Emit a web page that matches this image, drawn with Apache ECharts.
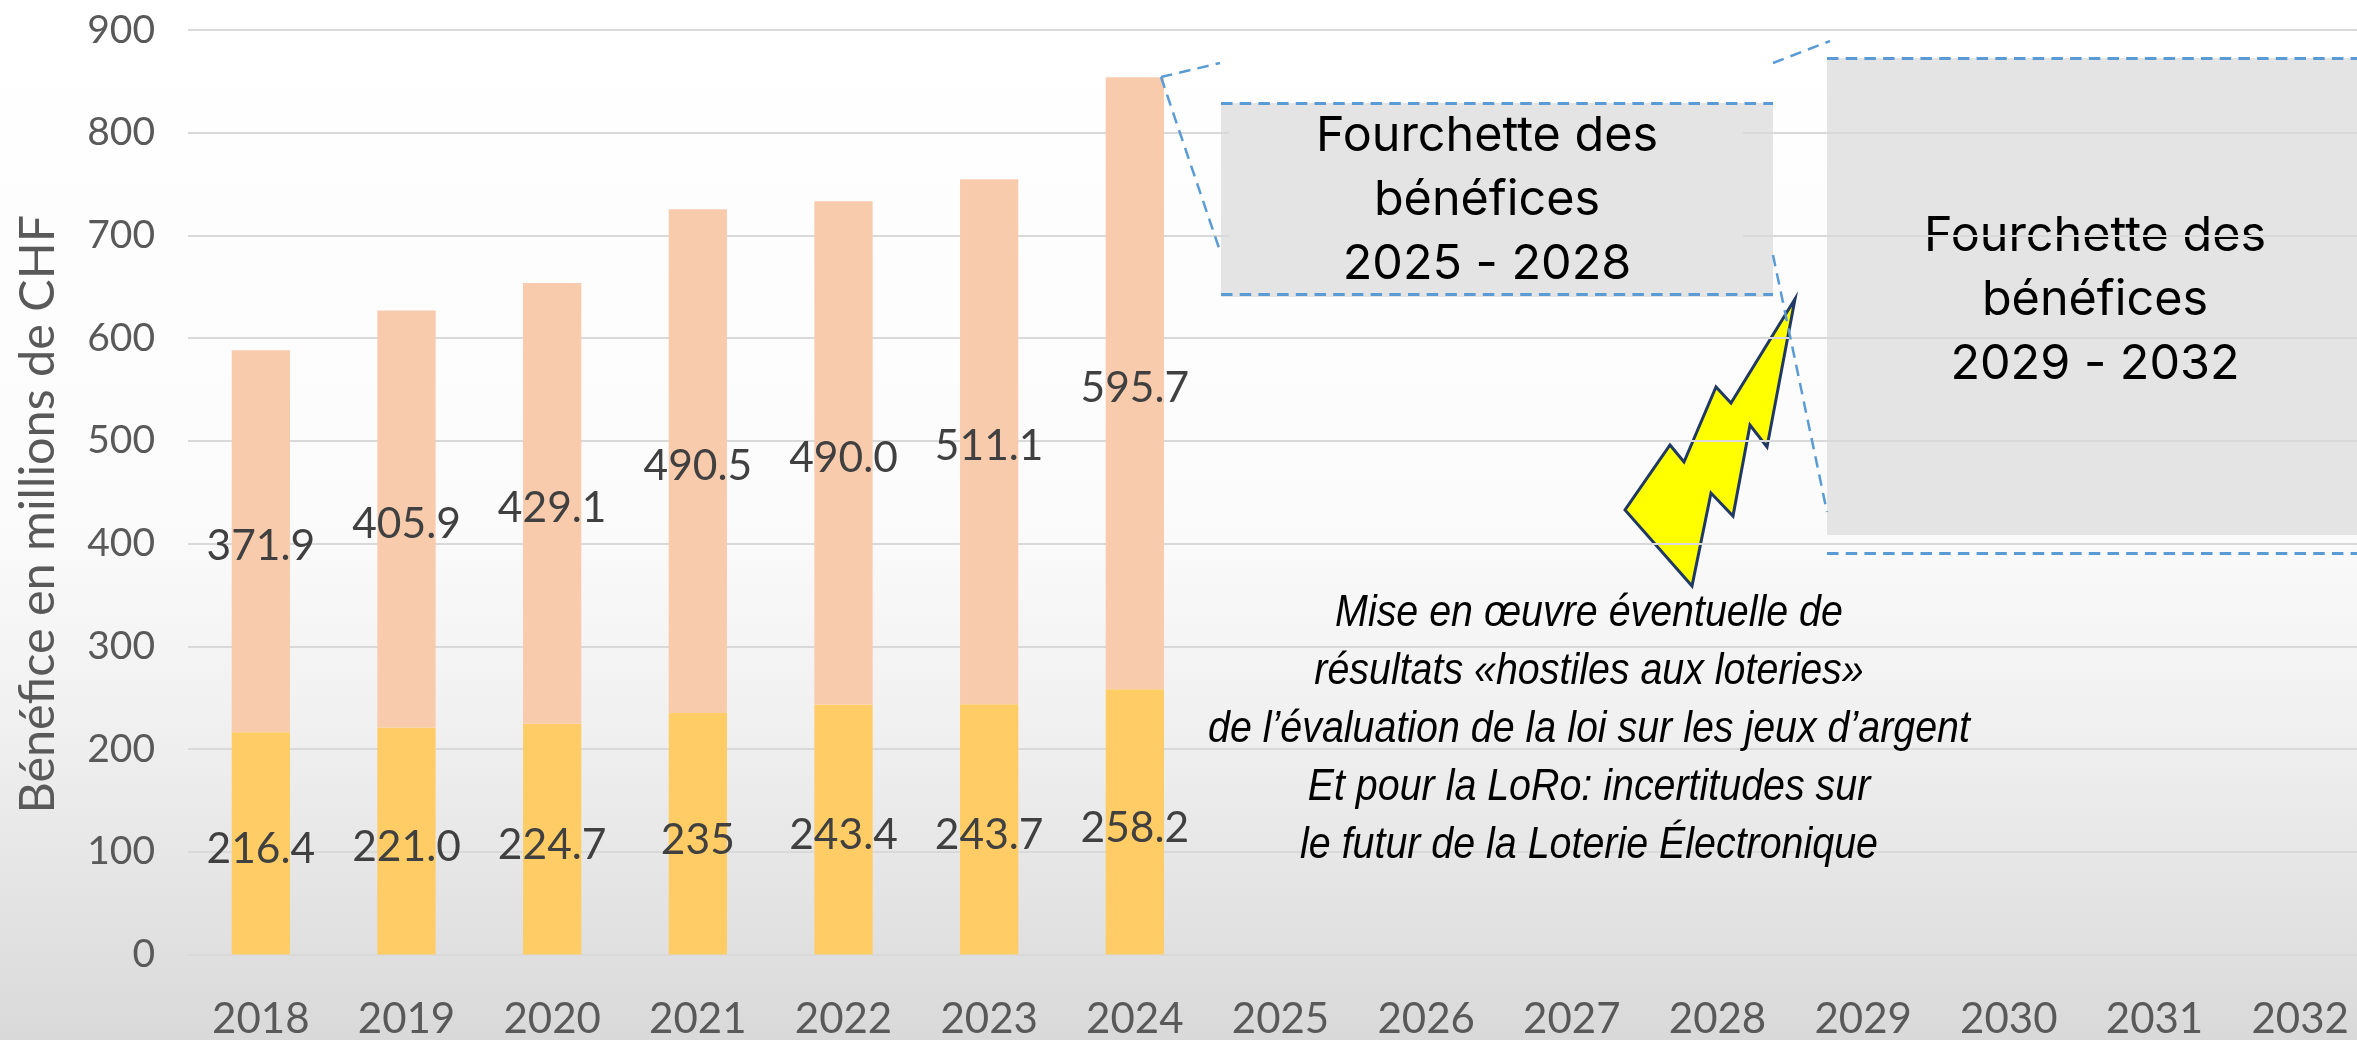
<!DOCTYPE html>
<html>
<head>
<meta charset="utf-8">
<style>
  html, body { margin: 0; padding: 0; background: #fff; }
  #chart { width: 2357px; height: 1040px; }
</style>
<script src="https://cdn.jsdelivr.net/npm/echarts@6/dist/echarts.min.js"></script>
</head>
<body>
<div id="chart"></div>
<script>
const categories = ['2018', '2019', '2020', '2021', '2022', '2023', '2024', '2025', '2026', '2027', '2028', '2029', '2030', '2031', '2032']
const lowerValues = [216.4, 221.0, 224.7, 235, 243.4, 243.7, 258.2, null, null, null, null, null, null, null, null]
const upperValues = [371.9, 405.9, 429.1, 490.5, 490.0, 511.1, 595.7, null, null, null, null, null, null, null, null]
const lowerLabels = ['216.4', '221.0', '224.7', '235', '243.4', '243.7', '258.2']
const upperLabels = ['371.9', '405.9', '429.1', '490.5', '490.0', '511.1', '595.7']
const yTicks = { min: 0, max: 900, interval: 100 }
const yTitle = 'Bénéfice en millions de CHF'
const rangeText1 = 'Fourchette des\nbénéfices\n2025 - 2028'
const rangeText2 = 'Fourchette des\nbénéfices\n2029 - 2032'
const noteLines = [
  'Mise en œuvre éventuelle de',
  'résultats «hostiles aux loteries»',
  'de l’évaluation de la loi sur les jeux d’argent',
  'Et pour la LoRo: incertitudes sur',
  'le futur de la Loterie Électronique',
]

const BLUE = '#5b9bd5'
const BOX = '#e4e4e4'

// z order: shapes under the gridlines, then the axis, then bars and box 1 mask
const dashed = (x1, y1, x2, y2, width, z) => ({
  type: 'line',
  z,
  shape: { x1, y1, x2, y2 },
  style: { stroke: BLUE, lineWidth: width, lineDash: [11.5, 7.2] },
})
const boxRect = (x, y, width, height, z) => ({
  type: 'rect',
  z,
  shape: { x, y, width, height },
  style: { fill: BOX },
})
const rangeLabel = (text, x, y, z) => ({
  type: 'text',
  z,
  x,
  y,
  style: {
    text,
    fill: '#000',
    font: '48.5px Inter',
    lineHeight: 64,
    align: 'center',
    verticalAlign: 'middle',
  },
})

// no narrow face installed, so the sans italic is squeezed to the reference width
const noteElements = noteLines.map((line, i) => ({
  type: 'text',
  z: 8,
  x: 1589,
  y: 614 + i * 58,
  scaleX: 0.895,
  style: {
    text: line,
    fill: '#000',
    font: 'italic 44px "Liberation Sans"',
    align: 'center',
    verticalAlign: 'middle',
  },
}))

const options = {
  animation: false,
  backgroundColor: new echarts.graphic.LinearGradient(0, 0, 0, 1, [
    { offset: 0, color: '#ffffff' },
    { offset: 0.5, color: '#fbfbfb' },
    { offset: 0.7, color: '#f0f0f0' },
    { offset: 1, color: '#d9d9d9' },
  ]),
  grid: { left: 188, width: 2185, top: 30, height: 924.5, outerBoundsMode: 'none' },
  xAxis: {
    type: 'category',
    data: categories,
    axisLine: { show: false },
    axisTick: { show: false },
    axisLabel: {
      interval: 0,
      margin: 44,
      color: '#595959',
      fontFamily: 'Lato',
      fontSize: 42,
    },
  },
  yAxis: {
    type: 'value',
    min: yTicks.min,
    max: yTicks.max,
    interval: yTicks.interval,
    z: 3,
    name: yTitle,
    nameLocation: 'middle',
    nameGap: 125,
    nameRotate: 90,
    nameTextStyle: {
      color: '#595959',
      fontFamily: 'Lato',
      fontSize: 48.5,
      padding: [0, 44, 0, 0],
    },
    axisLine: { show: false },
    axisTick: { show: false },
    axisLabel: {
      margin: 33,
      color: '#595959',
      fontFamily: 'Lato',
      fontSize: 39,
    },
    splitLine: { lineStyle: { color: '#d9d9d9', width: 2 } },
  },
  series: [{
    type: 'bar',
    stack: 'profit',
    z: 5,
    data: lowerValues,
    barWidth: '40%',
    itemStyle: { color: '#ffcc66' },
    label: {
      show: true,
      position: 'inside',
      offset: [0, 6],
      color: '#404040',
      fontFamily: 'Lato',
      fontSize: 42.5,
      formatter: (params) => lowerLabels[params.dataIndex] || '',
    },
  }, {
    type: 'bar',
    stack: 'profit',
    z: 5,
    data: upperValues,
    barWidth: '40%',
    itemStyle: { color: '#f8cbad' },
    label: {
      show: true,
      position: 'inside',
      offset: [0, 5],
      color: '#404040',
      fontFamily: 'Lato',
      fontSize: 42.5,
      formatter: (params) => upperLabels[params.dataIndex] || '',
    },
  }],
  graphic: {
    elements: [
      boxRect(1221, 103, 552, 194, 1),
      boxRect(1827, 58, 530, 477, 1),
      rangeLabel(rangeText2, 2095, 300, 2),
      {
        type: 'polygon',
        z: 2,
        shape: {
          points: [[1795, 299], [1731, 403], [1716, 387], [1684, 462], [1670, 445], [1625, 510], [1692, 586], [1711, 493], [1733, 516], [1750, 425], [1767, 447]],
        },
        style: { fill: '#ffff00', stroke: '#203864', lineWidth: 3 },
      },
      boxRect(1229, 106, 514, 188, 6),
      rangeLabel(rangeText1, 1487, 200, 7),
      dashed(1221, 103.5, 1773, 103.5, 3, 7),
      dashed(1221, 294.5, 1773, 294.5, 3, 7),
      dashed(1827, 58.5, 2357, 58.5, 3, 7),
      dashed(1827, 553.5, 2357, 553.5, 3, 7),
      dashed(1161, 77, 1220, 63, 2.5, 7),
      dashed(1161, 77, 1219, 248, 2.5, 7),
      dashed(1773, 63, 1830, 41, 2.5, 7),
      dashed(1773, 255, 1827, 512, 2.5, 7),
      ...noteElements,
    ],
  },
}

const myChart = echarts.init(document.getElementById('chart'))
myChart.setOption(options)
</script>
</body>
</html>
